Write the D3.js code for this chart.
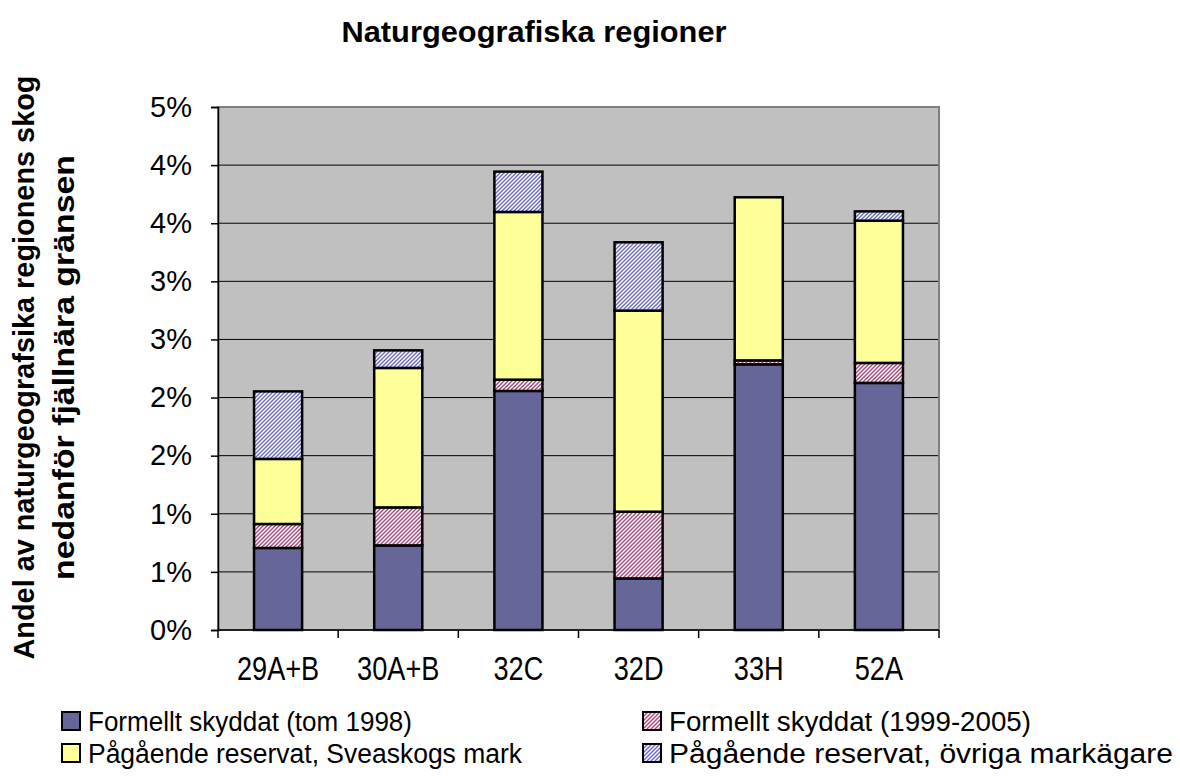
<!DOCTYPE html>
<html>
<head>
<meta charset="UTF-8" />
<title>Naturgeografiska regioner</title>
<script src="https://d3js.org/d3.v7.min.js"></script>
<style>
  body { margin: 0; background: #ffffff; }
  svg { display: block; font-family: Arial, "Liberation Sans", sans-serif; }
</style>
</head>
<body>
<svg id="chart" width="1180" height="776"></svg>
<script>
  const regions = ["29A+B", "30A+B", "32C", "32D", "33H", "52A"];
  const seriesNames = [
    "Formellt skyddat (tom 1998)",
    "Formellt skyddat (1999-2005)",
    "Pågående reservat, Sveaskogs mark",
    "Pågående reservat, övriga markägare"
  ];
  // andel i procent
  const skyddatTom1998 = [0.706, 0.728, 2.057, 0.444, 2.286, 2.126];
  const skyddat1999_2005 = [0.206, 0.327, 0.097, 0.574, 0.034, 0.172];
  const sveaskog = [0.560, 1.200, 1.443, 1.730, 1.403, 1.224];
  const ovriga = [0.581, 0.151, 0.347, 0.588, 0.000, 0.080];
  const yTicks = [0, 0.5, 1, 1.5, 2, 2.5, 3, 3.5, 4, 4.5];

  const svg = d3.select("#chart");
  const margin = { left: 218, right: 241, top: 107, bottom: 146 };
  const W = 1180, H = 776;
  const plotW = W - margin.left - margin.right;
  const plotH = H - margin.top - margin.bottom;

  // patterns
  const defs = svg.append("defs");
  function hatch(id, bg, fg) {
    const p = defs.append("pattern")
      .attr("id", id).attr("patternUnits", "userSpaceOnUse")
      .attr("width", 4).attr("height", 4);
    p.append("rect").attr("width", 4).attr("height", 4).attr("fill", bg);
    p.append("path").attr("d", "M-1,1 l2,-2 M0,4 l4,-4 M3,5 l2,-2")
      .attr("stroke", fg).attr("stroke-width", 1.4);
  }
  hatch("pinkHatch", "#ffffff", "#b0447c");
  hatch("blueHatch", "#ffffff", "#6868d0");

  const fills = ["#666699", "url(#pinkHatch)", "#ffff99", "url(#blueHatch)"];

  const data = regions.map((r, i) => ({
    region: r,
    s0: skyddatTom1998[i], s1: skyddat1999_2005[i], s2: sveaskog[i], s3: ovriga[i]
  }));
  const stacked = d3.stack().keys(["s0", "s1", "s2", "s3"])(data);

  const x = d3.scaleBand().domain(regions).range([0, plotW]).paddingInner(0.6).paddingOuter(0.3);
  const xBound = d3.scaleLinear().domain([0, regions.length]).range([0, plotW]);
  const y = d3.scaleLinear().domain([0, 4.5]).range([plotH, 0]);

  const g = svg.append("g").attr("transform", `translate(${margin.left},${margin.top})`);

  g.append("rect").attr("width", plotW).attr("height", plotH)
    .attr("fill", "#c0c0c0");

  g.selectAll("line.grid").data(yTicks.slice(1)).enter().append("line")
    .attr("class", "grid")
    .attr("x1", 0).attr("x2", plotW)
    .attr("y1", d => y(d)).attr("y2", d => y(d))
    .attr("stroke", "#000").attr("stroke-width", 1);

  g.append("rect").attr("width", plotW).attr("height", plotH)
    .attr("fill", "none").attr("stroke", "#808080").attr("stroke-width", 2);

  // bars
  stacked.forEach((layer, k) => {
    g.selectAll(null).data(layer.filter(d => d[1] - d[0] > 0)).enter().append("rect")
      .attr("x", d => x(d.data.region))
      .attr("width", x.bandwidth())
      .attr("y", d => y(d[1]))
      .attr("height", d => y(d[0]) - y(d[1]))
      .attr("fill", fills[k])
      .attr("stroke", "#000").attr("stroke-width", 2.5);
  });

  // y axis (Excel-style rounding of 0.5 steps)
  const yAxis = g.append("g")
    .call(d3.axisLeft(y).tickValues(yTicks).tickSize(7).tickPadding(19)
      .tickFormat(d => Math.floor(d + 0.5) + "%"));
  yAxis.select(".domain").attr("stroke", "#000").attr("stroke-width", 1.5);
  yAxis.selectAll(".tick line").attr("stroke", "#000").attr("stroke-width", 1.5);
  yAxis.selectAll(".tick text").attr("font-size", 29).attr("fill", "#000")
    .attr("font-family", "Arial, 'Liberation Sans', sans-serif");

  // x axis line + boundary ticks
  g.append("line").attr("x1", 0).attr("x2", plotW).attr("y1", plotH).attr("y2", plotH)
    .attr("stroke", "#000").attr("stroke-width", 1.5);
  g.selectAll("line.xtick").data(d3.range(regions.length + 1)).enter().append("line")
    .attr("x1", d => xBound(d)).attr("x2", d => xBound(d))
    .attr("y1", plotH).attr("y2", plotH + 8)
    .attr("stroke", "#000").attr("stroke-width", 1.5);
  g.selectAll("text.xlab").data(regions).enter().append("text")
    .attr("transform", d => `translate(${x(d) + x.bandwidth() / 2},${plotH + 50}) scale(0.97,1.2)`)
    .attr("text-anchor", "middle").attr("font-size", 28).attr("fill", "#000")
    .text(d => d);

  // title
  svg.append("text").attr("x", 534).attr("y", 42)
    .attr("text-anchor", "middle").attr("font-weight", "bold").attr("font-size", 30)
    .attr("textLength", 385).attr("lengthAdjust", "spacingAndGlyphs")
    .text("Naturgeografiska regioner");

  // y axis title
  const yt = svg.append("g")
    .attr("transform", `translate(34,${margin.top + plotH / 2 - 1}) rotate(-90)`)
    .attr("font-weight", "bold").attr("font-size", 29);
  yt.append("text").attr("text-anchor", "middle")
    .attr("textLength", 584).attr("lengthAdjust", "spacingAndGlyphs")
    .text("Andel av naturgeografsika regionens skog");
  yt.append("text").attr("text-anchor", "middle").attr("y", 40)
    .attr("textLength", 425).attr("lengthAdjust", "spacingAndGlyphs")
    .text("nedanför fjällnära gränsen");

  // legend
  const legendPos = [[62, 712], [643, 712], [62, 744], [643, 744]];
  const legendWidths = [324, 362, 434, 504];
  const lg = svg.append("g");
  seriesNames.forEach((name, i) => {
    const [lx, ly] = legendPos[i];
    lg.append("rect").attr("x", lx).attr("y", ly).attr("width", 18).attr("height", 18)
      .attr("fill", fills[i]).attr("stroke", "#000").attr("stroke-width", 2);
    lg.append("text").attr("x", lx + 26).attr("y", ly + 19)
      .attr("font-size", 27).attr("fill", "#000")
      .attr("textLength", legendWidths[i]).attr("lengthAdjust", "spacingAndGlyphs")
      .text(name);
  });
</script>
</body>
</html>
